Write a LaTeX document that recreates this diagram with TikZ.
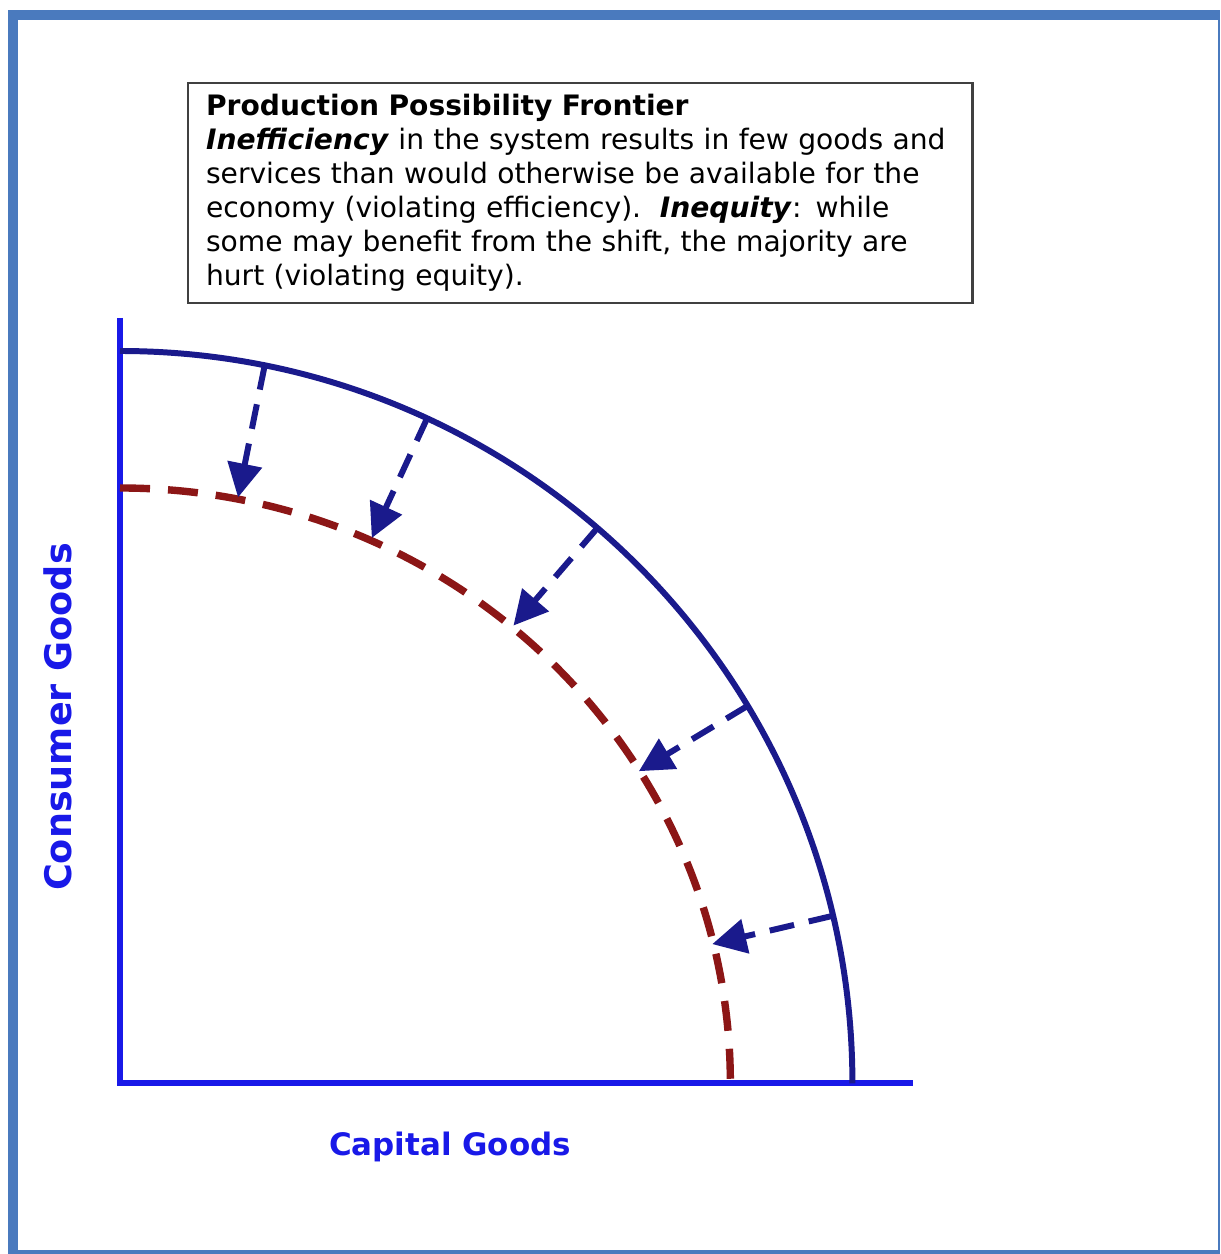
\documentclass[tikz,border=0pt]{standalone}
\usepackage{fontspec}
\setmainfont{DejaVu Sans}
\usepackage{tikz}
\usetikzlibrary{arrows.meta,positioning}

\definecolor{framebl}{RGB}{74,122,190}
\definecolor{axisbl}{RGB}{25,25,232}
\definecolor{navy}{RGB}{26,26,140}
\definecolor{darkred}{RGB}{140,22,22}

\begin{document}
\begin{tikzpicture}[
    x=0.01cm, y=0.01cm,
    infobox/.style={draw=black!75, line width=0.6pt, fill=white, anchor=north west, inner xsep=0.18cm, inner ysep=0.11cm, text width=7.48cm, align=left, font=\fontsize{8}{9.7}\selectfont},
    axis/.style={draw=axisbl, line width=1.7pt},
    ppf/.style={draw=navy, line width=1.7pt},
    newppf/.style={draw=darkred, line width=2.1pt, dash pattern=on 0.3cm off 0.18cm},
    shiftarr/.style={draw=navy, line width=1.7pt, dash pattern=on 0.25cm off 0.15cm, -{Triangle[length=0.34cm, width=0.34cm]}},
    axlabel/.style={text=axisbl, font=\fontsize{8.8}{11}\selectfont\bfseries}
]
% frame
\fill[framebl] (8,0) rectangle (1220,1244);
\fill[white] (18,4) rectangle (1218,1234);
\useasboundingbox (0,0) rectangle (1220,1254);

\node[infobox] (info) at (187,1172) {\textbf{Production Possibility Frontier}\\
\textbf{\textit{Inefficiency}} in the system results in few goods and\\
services than would otherwise be available for the\\
economy (violating efficiency).\ \ \textbf{\textit{Inequity}}: while\\
some may benefit from the shift, the majority are\\
hurt (violating equity).};

% axes
\coordinate (O) at (120,171);
\coordinate (ytop) at (120,936);
\coordinate (xend) at (913,171);
\draw[axis] (ytop) -- (O) -- (xend);

\node[axlabel, font=\fontsize{10.4}{12}\selectfont\bfseries, rotate=90] (ylab) at (58,537) {Consumer Goods};
\node[axlabel] (xlab) at (450,107) {Capital Goods};

% frontiers
\draw[ppf] (120,903) arc[start angle=90, end angle=0, radius=7.32cm];
\draw[newppf] (120,766) arc[start angle=90, end angle=0, x radius=6.10cm, y radius=5.95cm];

% shift arrows
\coordinate (out1) at ([shift={(78.6:7.32cm)}]O);
\coordinate (in1) at ([shift={(78.6:5.97cm)}]O);
\coordinate (out2) at ([shift={(65.2:7.32cm)}]O);
\coordinate (in2) at ([shift={(65.2:6.0cm)}]O);
\coordinate (out3) at ([shift={(49.3:7.32cm)}]O);
\coordinate (in3) at ([shift={(49.3:6.03cm)}]O);
\coordinate (out4) at ([shift={(31.0:7.32cm)}]O);
\coordinate (in4) at ([shift={(31.0:6.05cm)}]O);
\coordinate (out5) at ([shift={(13.2:7.32cm)}]O);
\coordinate (in5) at ([shift={(13.2:6.08cm)}]O);
\draw[shiftarr] (out1) -- (in1);
\draw[shiftarr] (out2) -- (in2);
\draw[shiftarr] (out3) -- (in3);
\draw[shiftarr] (out4) -- (in4);
\draw[shiftarr] (out5) -- (in5);
\end{tikzpicture}
\end{document}
